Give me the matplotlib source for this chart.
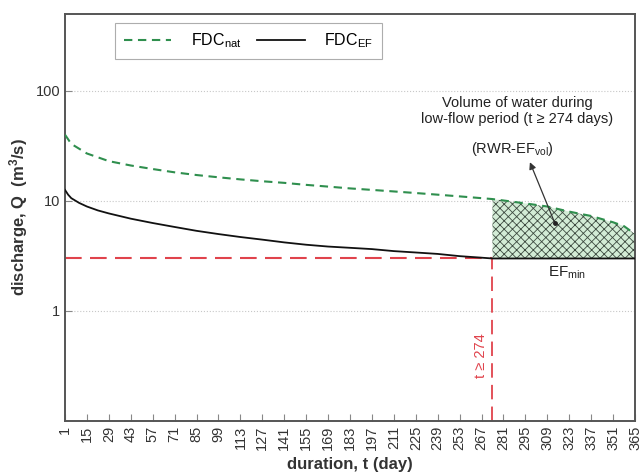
import numpy as np
import matplotlib.pyplot as plt
from matplotlib.ticker import FixedLocator, NullLocator

plt.rcParams['font.family'] = ['Liberation Sans', 'DejaVu Sans']
plt.rcParams['mathtext.default'] = 'regular'
plt.rcParams['hatch.linewidth'] = 0.6

# duration (day) and discharge (m3/s)
t_nat = [1, 5, 15, 29, 43, 57, 71, 85, 99, 113, 127, 141, 155, 169, 183, 197,
         211, 225, 239, 253, 267, 274, 281, 295, 309, 323, 337, 351, 358, 365]
q_nat = [40, 33, 27, 23, 21, 19.5, 18.2, 17.2, 16.4, 15.7, 15.1, 14.6, 14.0,
         13.5, 13.0, 12.6, 12.2, 11.8, 11.4, 11.0, 10.6, 10.4, 10.1, 9.5, 8.9,
         8.0, 7.3, 6.4, 5.9, 5.0]

t_ef = [1, 3, 5, 10, 15, 22, 29, 43, 57, 71, 85, 99, 113, 127, 141, 155, 169,
        183, 197, 211, 225, 239, 253, 267, 274, 365]
q_ef = [12.6, 11.4, 10.6, 9.6, 8.9, 8.2, 7.7, 6.9, 6.3, 5.8, 5.35, 5.0, 4.7,
        4.45, 4.2, 4.0, 3.85, 3.75, 3.65, 3.5, 3.4, 3.3, 3.15, 3.05, 3.0, 3.0]

ef_min = 3.0
t_low = 274
xticks = list(range(1, 366, 14))
yticks = [1, 10, 100]

fig = plt.figure(figsize=(6.41, 4.75), dpi=100)
ax = fig.add_axes([0.1014, 0.1137, 0.8892, 0.8568])

t_nat_a = np.array(t_nat)
q_nat_a = np.array(q_nat)
low = t_nat_a >= t_low
ax.fill_between(t_nat_a[low], ef_min, q_nat_a[low], facecolor='#d3ecd6',
                edgecolor='#3d4a40', hatch='xxxx', linewidth=0, zorder=1)

ax.plot(t_nat, q_nat, color='#2f8f4e', lw=1.5, dashes=(4, 2.7), zorder=3,
        label='FDC$_{nat}$')
ax.plot(t_ef, q_ef, color='#111111', lw=1.3, zorder=3, label='FDC$_{EF}$')

red = '#e0434c'
ax.plot([1, t_low], [ef_min, ef_min], color=red, lw=1.5, dashes=(8, 4), zorder=2)
ax.plot([t_low, t_low], [0.1, ef_min], color=red, lw=1.3, dashes=(8, 4), zorder=2)

ax.set_yscale('log')
ax.set_xlim(1, 365)
ax.set_ylim(0.1, 500)
ax.xaxis.set_major_locator(FixedLocator(xticks))
ax.set_xticklabels([str(v) for v in xticks], rotation=90)
ax.yaxis.set_major_locator(FixedLocator(yticks))
ax.set_yticklabels([str(v) for v in yticks])
ax.yaxis.set_minor_locator(NullLocator())
ax.tick_params(direction='in', length=5, width=0.8, color='#888888',
               labelsize=10.5, labelcolor='#333333')
ax.yaxis.grid(True, ls=':', color='#c8c8c8', lw=0.8)
for s in ax.spines.values():
    s.set_color('#555555')
    s.set_linewidth(1.4)

ax.set_xlabel('duration, t (day)', fontsize=12, fontweight='bold', color='#333333',
              labelpad=5)
ax.set_ylabel('discharge, Q  (m$^3$/s)', fontsize=12, fontweight='bold',
              color='#333333', labelpad=4)

leg = ax.legend(loc='upper left', bbox_to_anchor=(0.179, 0.952),
                bbox_transform=fig.transFigure, ncol=2, fancybox=False,
                edgecolor='#999999', fontsize=11.5, handlelength=3.0,
                columnspacing=1.0, borderpad=0.55, borderaxespad=0,
                handletextpad=1.2)
leg.get_frame().set_linewidth(0.8)

ax.text(290, 66, 'Volume of water during\nlow-flow period (t \u2265 274 days)',
        ha='center', va='center', fontsize=10.5, color='#222222', linespacing=1.2)
ax.text(287, 29.7, '(RWR-EF$_{vol}$)', ha='center', va='center', fontsize=10.5,
        color='#222222')
ax.annotate('', xy=(297.9, 22.5), xytext=(313.9, 6.25),
            arrowprops=dict(arrowstyle='-|>', color='#333333', lw=0.9,
                            mutation_scale=10, shrinkA=0, shrinkB=0))
ax.plot([313.9], [6.25], 'o', color='#222222', ms=2.5, zorder=4)
ax.text(321.6, 2.23, 'EF$_{min}$', ha='center', va='center', fontsize=11,
        color='#222222')
ax.text(271, 0.39, 't \u2265 274', rotation=90, ha='right', va='center',
        fontsize=10.5, color=red)

fig.savefig('out.png', dpi=100)
